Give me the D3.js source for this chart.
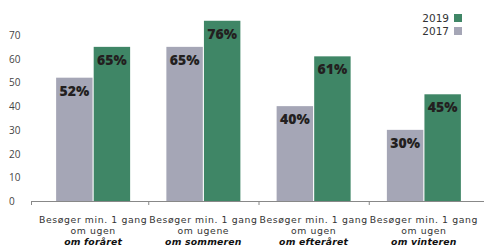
<!DOCTYPE html>
<html>
<head>
<meta charset="utf-8">
<script src="https://cdn.jsdelivr.net/npm/d3@7"></script>
<style>
  body { margin: 0; background: #fff; }
  text { font-family: "Open Sans", sans-serif; }
  .cat, .leg { font-family: "DejaVu Sans", sans-serif; }
</style>
</head>
<body>
<div id="wrapper"></div>
<script>
// data
const categories = ["forår", "sommer", "efterår", "vinter"]
const line1 = ["Besøger min. 1 gang", "Besøger min. 1 gang", "Besøger min. 1 gang", "Besøger min. 1 gang"]
const line2 = ["om ugen", "om ugene", "om ugen", "om ugen"]
const line3 = ["om foråret", "om sommeren", "om efteråret", "om vinteren"]
const series = ["2017", "2019"]
const values2017 = [52, 65, 40, 30]
const values2019 = [65, 76, 61, 45]
const yTicks = [0, 10, 20, 30, 40, 50, 60, 70]

const colors = { "2017": "#a5a6b6", "2019": "#3f8666" }

const width = 484, height = 247

const svg = d3.select("#wrapper").append("svg")
  .attr("width", width)
  .attr("height", height)

const x = d3.scaleBand()
  .domain(categories)
  .range([38, 479])
  .paddingInner(0)

const x1 = d3.scaleBand()
  .domain(series)
  .range([0, 74])
  .paddingInner(0.03)

const y = d3.scaleLinear()
  .domain([0, 70])
  .range([201, 35])

// y tick labels
svg.append("g")
  .selectAll("text")
  .data(yTicks)
  .join("text")
    .attr("x", 9)
    .attr("y", d => y(d) + 4)
    .attr("font-size", 10)
    .attr("fill", "#444")
    .text(d => d)

// bars
const rows = categories.map((c, i) => ({ c, i, vals: [
  { s: "2017", v: values2017[i] },
  { s: "2019", v: values2019[i] }
] }))

const groups = svg.append("g")
  .selectAll("g")
  .data(rows)
  .join("g")
    .attr("transform", d => `translate(${x(d.c) + x.bandwidth() / 2 - 37},0)`)

groups.selectAll("rect")
  .data(d => d.vals)
  .join("rect")
    .attr("x", d => x1(d.s))
    .attr("width", x1.bandwidth())
    .attr("y", d => y(d.v))
    .attr("height", d => y(0) - y(d.v))
    .attr("fill", d => colors[d.s])

groups.selectAll("text.val")
  .data(d => d.vals)
  .join("text")
    .attr("class", "val")
    .attr("x", d => x1(d.s) + x1.bandwidth() / 2)
    .attr("y", d => y(d.v) + 18)
    .attr("text-anchor", "middle")
    .attr("font-size", 14)
    .attr("font-weight", 800)
    .attr("fill", "#231f20")
    .text(d => d.v + "%")

// x axis
svg.append("line")
  .attr("x1", 31).attr("x2", width)
  .attr("y1", y(0) + 0.5).attr("y2", y(0) + 0.5)
  .attr("stroke", "#888")

svg.append("g")
  .selectAll("line")
  .data(categories.slice(1))
  .join("line")
    .attr("x1", d => x(d) + 0.5).attr("x2", d => x(d) + 0.5)
    .attr("y1", y(0)).attr("y2", y(0) + 4)
    .attr("stroke", "#888")

svg.append("line")
  .attr("x1", 31.5).attr("x2", 31.5)
  .attr("y1", y(0)).attr("y2", y(0) + 4)
  .attr("stroke", "#888")

// category labels, one text per line
const cx = d => x(d) + x.bandwidth() / 2
const catLines = [
  { arr: line1, y: 223, bold: false },
  { arr: line2, y: 234, bold: false },
  { arr: line3, y: 245, bold: true }
]
catLines.forEach(l => {
  svg.append("g")
    .selectAll("text")
    .data(categories)
    .join("text")
      .attr("class", "cat")
      .attr("x", cx)
      .attr("y", l.y)
      .attr("text-anchor", "middle")
      .attr("font-size", 9.3)
      .attr("letter-spacing", l.bold ? 0.2 : 0.6)
      .attr("font-weight", l.bold ? "bold" : "normal")
      .attr("font-style", l.bold ? "italic" : "normal")
      .attr("fill", l.bold ? "#111" : "#333")
      .text((d, i) => l.arr[i])
})

// legend
const legendItems = ["2019", "2017"]
const legend = svg.append("g")
  .selectAll("g")
  .data(legendItems)
  .join("g")
    .attr("transform", (d, i) => `translate(0,${18 + i * 13})`)

legend.append("text")
  .attr("class", "leg")
  .attr("x", 449)
  .attr("y", 4)
  .attr("text-anchor", "end")
  .attr("font-size", 10.5)
  .attr("fill", "#333")
  .text(d => d)

legend.append("rect")
  .attr("x", 454)
  .attr("y", -4)
  .attr("width", 8)
  .attr("height", 8)
  .attr("fill", d => colors[d])
</script>
</body>
</html>
